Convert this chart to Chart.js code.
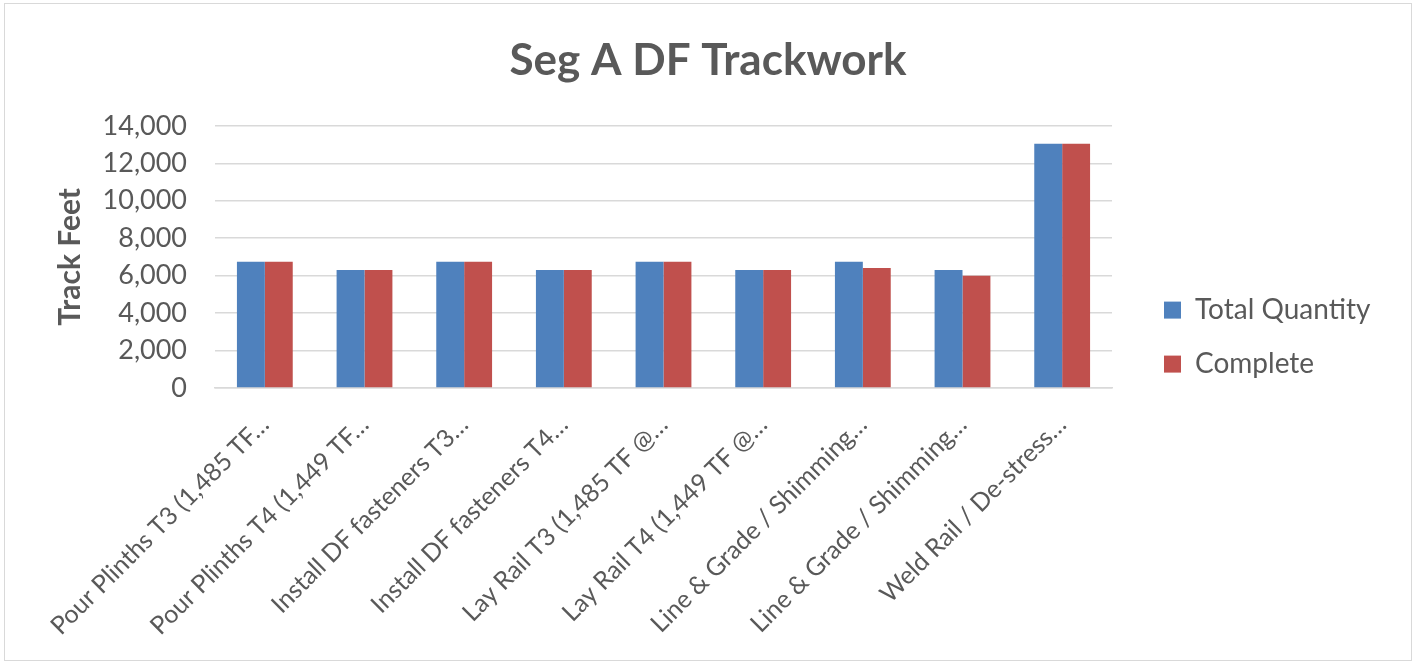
<!DOCTYPE html>
<html>
<head>
<meta charset="utf-8">
<script src="https://cdn.jsdelivr.net/npm/chart.js@4/dist/chart.umd.min.js"></script>
<style>
  body { margin: 0; background: #fff; }
  #wrap { position: absolute; left: 4px; top: 3px; width: 1406px; height: 656px; border: 1px solid #d9d9d9; }
  canvas { display: block; }
</style>
</head>
<body>
<div id="wrap"><canvas id="chart" width="1406" height="656"></canvas></div>
<script>
const categories = [
  'Pour Plinths T3 (1,485 TF…',
  'Pour Plinths T4 (1,449 TF…',
  'Install DF fasteners T3…',
  'Install DF fasteners T4…',
  'Lay Rail T3 (1,485 TF @…',
  'Lay Rail T4 (1,449 TF @…',
  'Line & Grade / Shimming…',
  'Line & Grade / Shimming…',
  'Weld Rail / De-stress…'
];
const totalQuantity = [6740, 6300, 6740, 6300, 6740, 6300, 6740, 6300, 13040];
const complete      = [6740, 6300, 6740, 6300, 6740, 6300, 6410, 5990, 13040];
const yTicks = [0, 2000, 4000, 6000, 8000, 10000, 12000, 14000];

const font = "Lato, 'Open Sans', sans-serif";
const grey = '#595959';

// keep the legend a fixed width so the plot area lines up with the original
const legendWidth = {
  id: 'legendWidth',
  afterInit(chart) {
    const lg = chart.legend;
    const fit = lg.fit.bind(lg);
    lg.fit = function () { fit(); this.width = 273; };
  }
};

new Chart(document.getElementById('chart'), {
  type: 'bar',
  data: {
    labels: categories,
    datasets: [
      { label: 'Total Quantity', data: totalQuantity, backgroundColor: '#4F81BD' },
      { label: 'Complete', data: complete, backgroundColor: '#C0504D' }
    ]
  },
  plugins: [legendWidth],
  options: {
    responsive: false,
    animation: false,
    layout: { padding: 0 },
    datasets: { bar: { categoryPercentage: 0.56, barPercentage: 1 } },
    plugins: {
      title: {
        display: true,
        text: 'Seg A DF Trackwork',
        color: grey,
        font: { family: font, size: 44, weight: 'bold' },
        padding: { top: 30, bottom: 39 }
      },
      legend: {
        position: 'right',
        title: { display: true, text: ' ', font: { size: 1 }, padding: { top: 0, bottom: 9 } },
        labels: {
          color: grey,
          font: { family: font, size: 28 },
          boxWidth: 17,
          boxHeight: 17,
          padding: 26
        }
      },
      tooltip: { enabled: false }
    },
    scales: {
      x: {
        grid: { display: false },
        border: { color: '#d9d9d9', width: 1.5 },
        afterFit: s => { s.height = 272; },
        ticks: {
          color: grey,
          padding: 14,
          font: { family: font, size: 25 },
          maxRotation: 45,
          minRotation: 45,
          autoSkip: false
        }
      },
      y: {
        min: yTicks[0],
        max: yTicks[yTicks.length - 1],
        afterFit: s => { s.width = 210; },
        afterBuildTicks: s => { s.ticks = yTicks.map(v => ({ value: v })); },
        grid: { color: '#d9d9d9', lineWidth: 1.5, drawTicks: false },
        border: { display: false },
        ticks: {
          color: grey,
          padding: 28,
          font: { family: font, size: 27 },
          callback: v => v.toLocaleString('en-US')
        },
        title: {
          display: true,
          text: 'Track Feet',
          color: grey,
          padding: { top: 47, bottom: 0 },
          font: { family: font, size: 30, weight: 'bold' }
        }
      },
      gap: {
        position: 'right',
        display: true,
        grid: { display: false },
        border: { display: false },
        ticks: { display: false },
        afterFit: s => { s.width = 26; }
      }
    }
  }
});
</script>
</body>
</html>
